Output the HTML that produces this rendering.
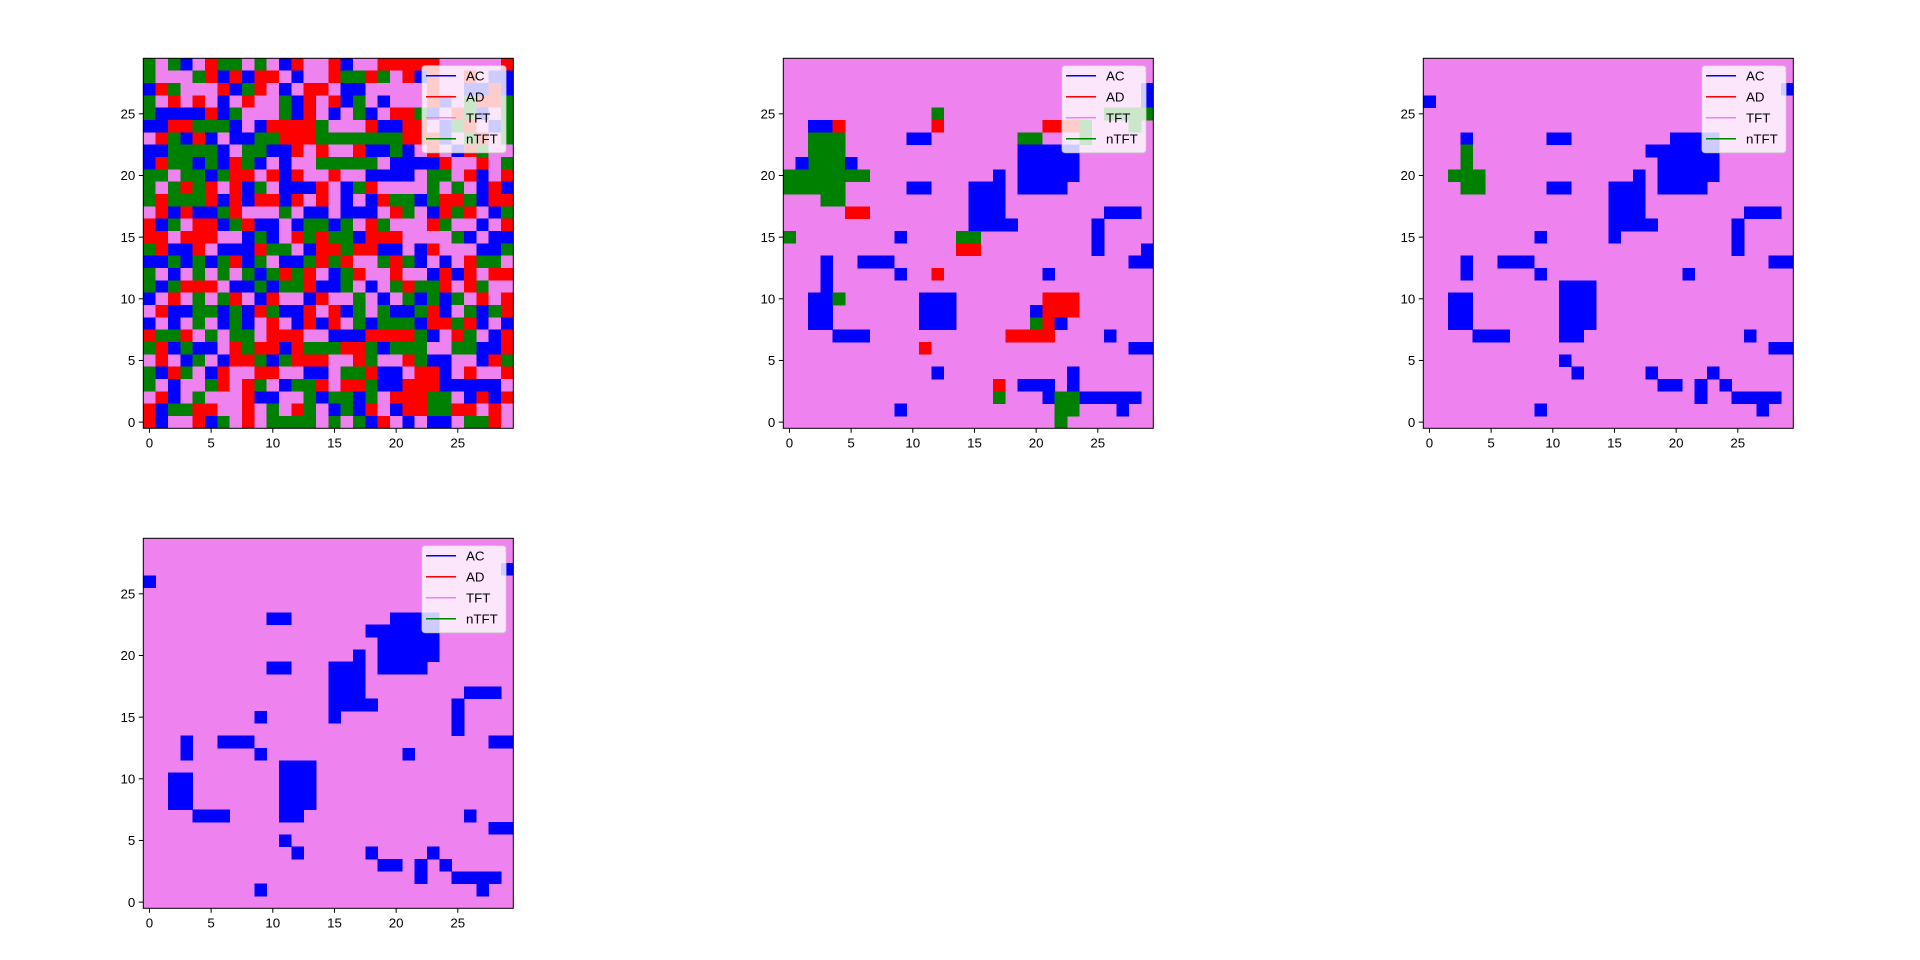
<!DOCTYPE html>
<html><head><meta charset="utf-8"><style>
html,body{margin:0;padding:0;background:#fff;width:1920px;height:960px;overflow:hidden}
svg{display:block}
text{font-family:"Liberation Sans","DejaVu Sans",sans-serif;font-size:13.3px;fill:#000}
</style></head><body>
<svg id="fig" width="1920" height="960" viewBox="0 0 1920 960" xmlns="http://www.w3.org/2000/svg"></svg>
<script>
// Panel 1 grid rows, top row (y=29) first; B=AC, R=AD, P=TFT, G=nTFT
const grid1Rows = [
"GPGBPRGGPGPBRPPRBPPRRRRRPPPPPR",
"GPPPGRBRBRRPBPPRGGRGPRBRPPRPBB",
"BRGPPPRBGRPBPRRPBBPPPPPRPPBBRB",
"GPRPRPBPRPPGBRPRBGPBPPPRBPGRRG",
"GBBBBRBGPPPGBRPBPGBPRRGBPRGBPG",
"BBRRGGGBPBRRRRGPPPRBBRRPBGRPBG",
"PRGBRBPBBGGRRRGGGGGGGRRRBPGRPG",
"BBGGGGBPGGBBRPRPPRBBGBPRPBRGPP",
"BRGGBGBRGBPBPPGGGGGPBBBBRPPRPG",
"GGPGGBGRRPRBRPPRPPBBBBPGGPRBPR",
"GPGRGRPRBGPBBBRPBGRPPPPGPGPBRB",
"GRGGGRBRBRRBRPRPBPBRGGBGRRGBRR",
"PRBRBBGRPPPGPBBPBBBPRGPBRGRPBG",
"RBGPRRBGRBBPBGGBGPRGPPPRGPPBPR",
"RRPRRRPPBGBPRGRGGBRRRPPPPGBPBB",
"GRBBRPBBBRGGPBRRGRRBBPBRPPPBBG",
"BBGBGBGRBGPBBGRGRPPGRGBPBPRGGP",
"GPBPGPGPGBGRGRPBGRPPRPPBRBRPRR",
"GBGRRRPBBGBGGRBBGPBPGRGGRPRGPP",
"BPRPGPGRPBRPPBRPPGPBPGBGBGPRPR",
"PRBBGGBGBRGBBRPRBGPGBBGRBPGBGR",
"BPBPGPBGBPRPBRBRPGBGGGBRRGRBPB",
"RGGRPGPGGPRRRPPBBBRRRRGBPRGPBR",
"GRBGBBPRGRRBRGGGRRGBGGGPPGGBBR",
"PRPBGPBRRGBGRRRPPRGPPRGBBPPBRG",
"GBRGPBRPPRRPPBBPGGRBBPRRBPRPPR",
"GPBPPGRPRGPBGGRPRRGBBRRRBBBBBP",
"PRBPGPPPRBBPPGBGGBGPRRRGGPBRBR",
"RBGGRRPPRPGPRGPBGBRPBRRGGRRPRP",
"RBPPRBGPRPGGGGPGPGBRPBPBBPGGRP"
];
// Panel 2 runs: [strategy, row, colStart, colEnd] on a TFT background
const grid2Runs = [
["B",27,29,29],["B",26,29,29],["G",25,29,29],["G",25,26,28],["G",24,24,24],["G",23,24,24],["G",24,28,28],["R",24,21,23],
["G",25,12,12],["R",24,12,12],["B",24,2,3],["R",24,4,4],
["G",23,2,4],["G",22,2,4],["G",21,2,4],["B",21,1,1],["B",21,5,5],["G",20,0,6],["G",19,0,4],["G",18,3,4],
["R",17,5,6],["B",23,10,11],["B",19,10,11],["G",23,19,20],
["B",22,19,23],["B",21,19,23],["B",20,19,23],["B",19,19,22],
["B",20,17,17],["B",19,15,17],["B",18,15,17],["B",17,15,17],["B",16,15,18],
["B",17,26,28],["B",16,25,25],["B",15,25,25],["B",14,25,25],
["G",15,0,0],["B",15,9,9],["G",15,14,15],["R",14,14,15],
["B",14,29,29],["B",13,28,29],
["B",13,3,3],["B",12,3,3],["B",11,3,3],["B",13,6,8],["B",12,9,9],["R",12,12,12],["B",12,21,21],
["B",10,2,3],["B",9,2,3],["B",8,2,3],["G",10,4,4],["B",7,4,6],
["B",10,11,13],["B",9,11,13],["B",8,11,13],
["R",10,21,23],["R",9,21,23],["B",9,20,20],["G",8,20,20],["R",8,21,21],["B",8,22,22],["R",7,18,21],
["B",7,26,26],["B",6,28,29],["R",6,11,11],["B",4,12,12],
["R",3,17,17],["G",2,17,17],["B",3,19,21],["B",2,21,21],["B",4,23,23],["B",3,23,23],["G",2,22,23],["G",1,22,23],["G",0,22,22],
["B",2,24,28],["B",1,27,27],["B",1,9,9]
];
// Panel 3 runs
const grid3Runs = [
["B",27,29,29],["B",26,0,0],["B",23,3,3],["G",22,3,3],["G",21,3,3],["G",20,2,4],["G",19,3,4],
["B",23,10,11],["B",19,10,11],
["B",23,20,23],["B",22,18,23],["B",21,19,23],["B",20,19,23],["B",20,17,17],["B",19,19,22],["B",19,15,17],["B",18,15,17],["B",17,15,17],["B",16,15,18],["B",15,15,15],
["B",17,26,28],["B",16,25,25],["B",15,25,25],["B",14,25,25],
["B",15,9,9],["B",13,3,3],["B",12,3,3],["B",13,6,8],["B",12,9,9],["B",13,28,29],["B",12,21,21],
["B",11,11,13],["B",10,11,13],["B",9,11,13],["B",8,11,13],["B",7,11,12],
["B",10,2,3],["B",9,2,3],["B",8,2,3],["B",7,4,6],["B",7,26,26],["B",6,28,29],
["B",5,11,11],["B",4,12,12],["B",4,18,18],["B",3,19,20],["B",4,23,23],["B",3,22,22],["B",2,22,22],["B",3,24,24],["B",2,25,28],["B",1,27,27],["B",1,9,9]
];
// Panel 4 runs
const grid4Runs = [
["B",27,29,29],["B",26,0,0],
["B",23,10,11],["B",19,10,11],
["B",23,20,23],["B",22,18,23],["B",21,19,23],["B",20,19,23],["B",20,17,17],["B",19,19,22],["B",19,15,17],["B",18,15,17],["B",17,15,17],["B",16,15,18],["B",15,15,15],
["B",17,26,28],["B",16,25,25],["B",15,25,25],["B",14,25,25],
["B",15,9,9],["B",13,3,3],["B",12,3,3],["B",13,6,8],["B",12,9,9],["B",13,28,29],["B",12,21,21],
["B",11,11,13],["B",10,11,13],["B",9,11,13],["B",8,11,13],["B",7,11,12],
["B",10,2,3],["B",9,2,3],["B",8,2,3],["B",7,4,6],["B",7,26,26],["B",6,28,29],
["B",5,11,11],["B",4,12,12],["B",4,18,18],["B",3,19,20],["B",4,23,23],["B",3,22,22],["B",2,22,22],["B",3,24,24],["B",2,25,28],["B",1,27,27],["B",1,9,9]
];
const tickValues = [0,5,10,15,20,25];
const legendLabels = ["AC","AD","TFT","nTFT"];
const legendCodes = ["B","R","P","G"];

const COLORS = {B:"#0000ff",R:"#ff0000",P:"#ee82ee",G:"#008000"};
const NS = "http://www.w3.org/2000/svg";
const svg = document.getElementById('fig');
const N = 30, W = 370;
const S = W / N;
function mk(tag, attrs, parent){const e=document.createElementNS(NS,tag);for(const k in attrs)e.setAttribute(k,attrs[k]);parent.appendChild(e);return e;}

function drawPanel(idx, left, top, cellsFn){
  const g = mk('g',{},svg);
  
  
  const xs = c => left + c*S;
  const ys = r => top + W - (r+1)*S;
  const cells = mk('g',{'shape-rendering':'crispEdges'},g);
  
  
  cellsFn(cells, xs, ys);
  const fr = mk('rect',{x:left,y:top,width:W,height:W,fill:'none',stroke:'#000','stroke-width':1},g);
  
  
  tickValues.forEach(v=>{
    const tx = left + (v+0.5)*S, ty = top + W - (v+0.5)*S;
    mk('line',{x1:tx,y1:top+W,x2:tx,y2:top+W+4.5,stroke:'#000','stroke-width':1},g);
    const xl = mk('text',{x:tx,y:top+W+19,'text-anchor':'middle'},g);
    xl.textContent = v;
    
    
    mk('line',{x1:left-4.5,y1:ty,x2:left,y2:ty,stroke:'#000','stroke-width':1},g);
    const yl = mk('text',{x:left-8,y:ty+4.7,'text-anchor':'end'},g);
    yl.textContent = v;
    
    
  });
  const lg = mk('g',{},g);
  
  
  const lx = left + W - 7.3 - 84, ly = top + 7.4;
  mk('rect',{x:lx,y:ly,width:84,height:87,rx:3,fill:'#ffffff','fill-opacity':0.8,stroke:'#cccccc','stroke-opacity':0.8},lg);
  legendLabels.forEach((lab,i)=>{
    const e = mk('g',{},lg);
    
    
    const cy = ly + 10 + i*21;
    mk('line',{x1:lx+4,y1:cy,x2:lx+34,y2:cy,stroke:COLORS[legendCodes[i]],'stroke-width':1.5},e);
    const t = mk('text',{x:lx+44,y:cy+4.7},e);
    t.textContent = lab;
  });
}

function gridFromRows(rows){
  return (cells, xs, ys) => {
    rows.forEach((str,t)=>{
      const r = N-1-t;
      for(let c=0;c<N;c++){
        const code = str[c] || "P";
        const rc = mk('rect',{x:xs(c),y:ys(r),width:S+0.3,height:S+0.3,fill:COLORS[code]},cells);
        
        
      }
    });
  };
}
function gridFromRuns(runs){
  return (cells, xs, ys) => {
    const bg = mk('rect',{x:xs(0),y:ys(N-1),width:W,height:W,fill:COLORS.P},cells);
    
    
    runs.forEach(([code,r,c0,c1])=>{
      const rc = mk('rect',{x:xs(c0),y:ys(r),width:(c1-c0+1)*S+0.3,height:S+0.3,fill:COLORS[code]},cells);
      
      
    });
  };
}
drawPanel(1,143.3,58.3,gridFromRows(grid1Rows));
drawPanel(2,783.3,58.3,gridFromRuns(grid2Runs));
drawPanel(3,1423.3,58.3,gridFromRuns(grid3Runs));
drawPanel(4,143.3,538.3,gridFromRuns(grid4Runs));
</script>
</body></html>
